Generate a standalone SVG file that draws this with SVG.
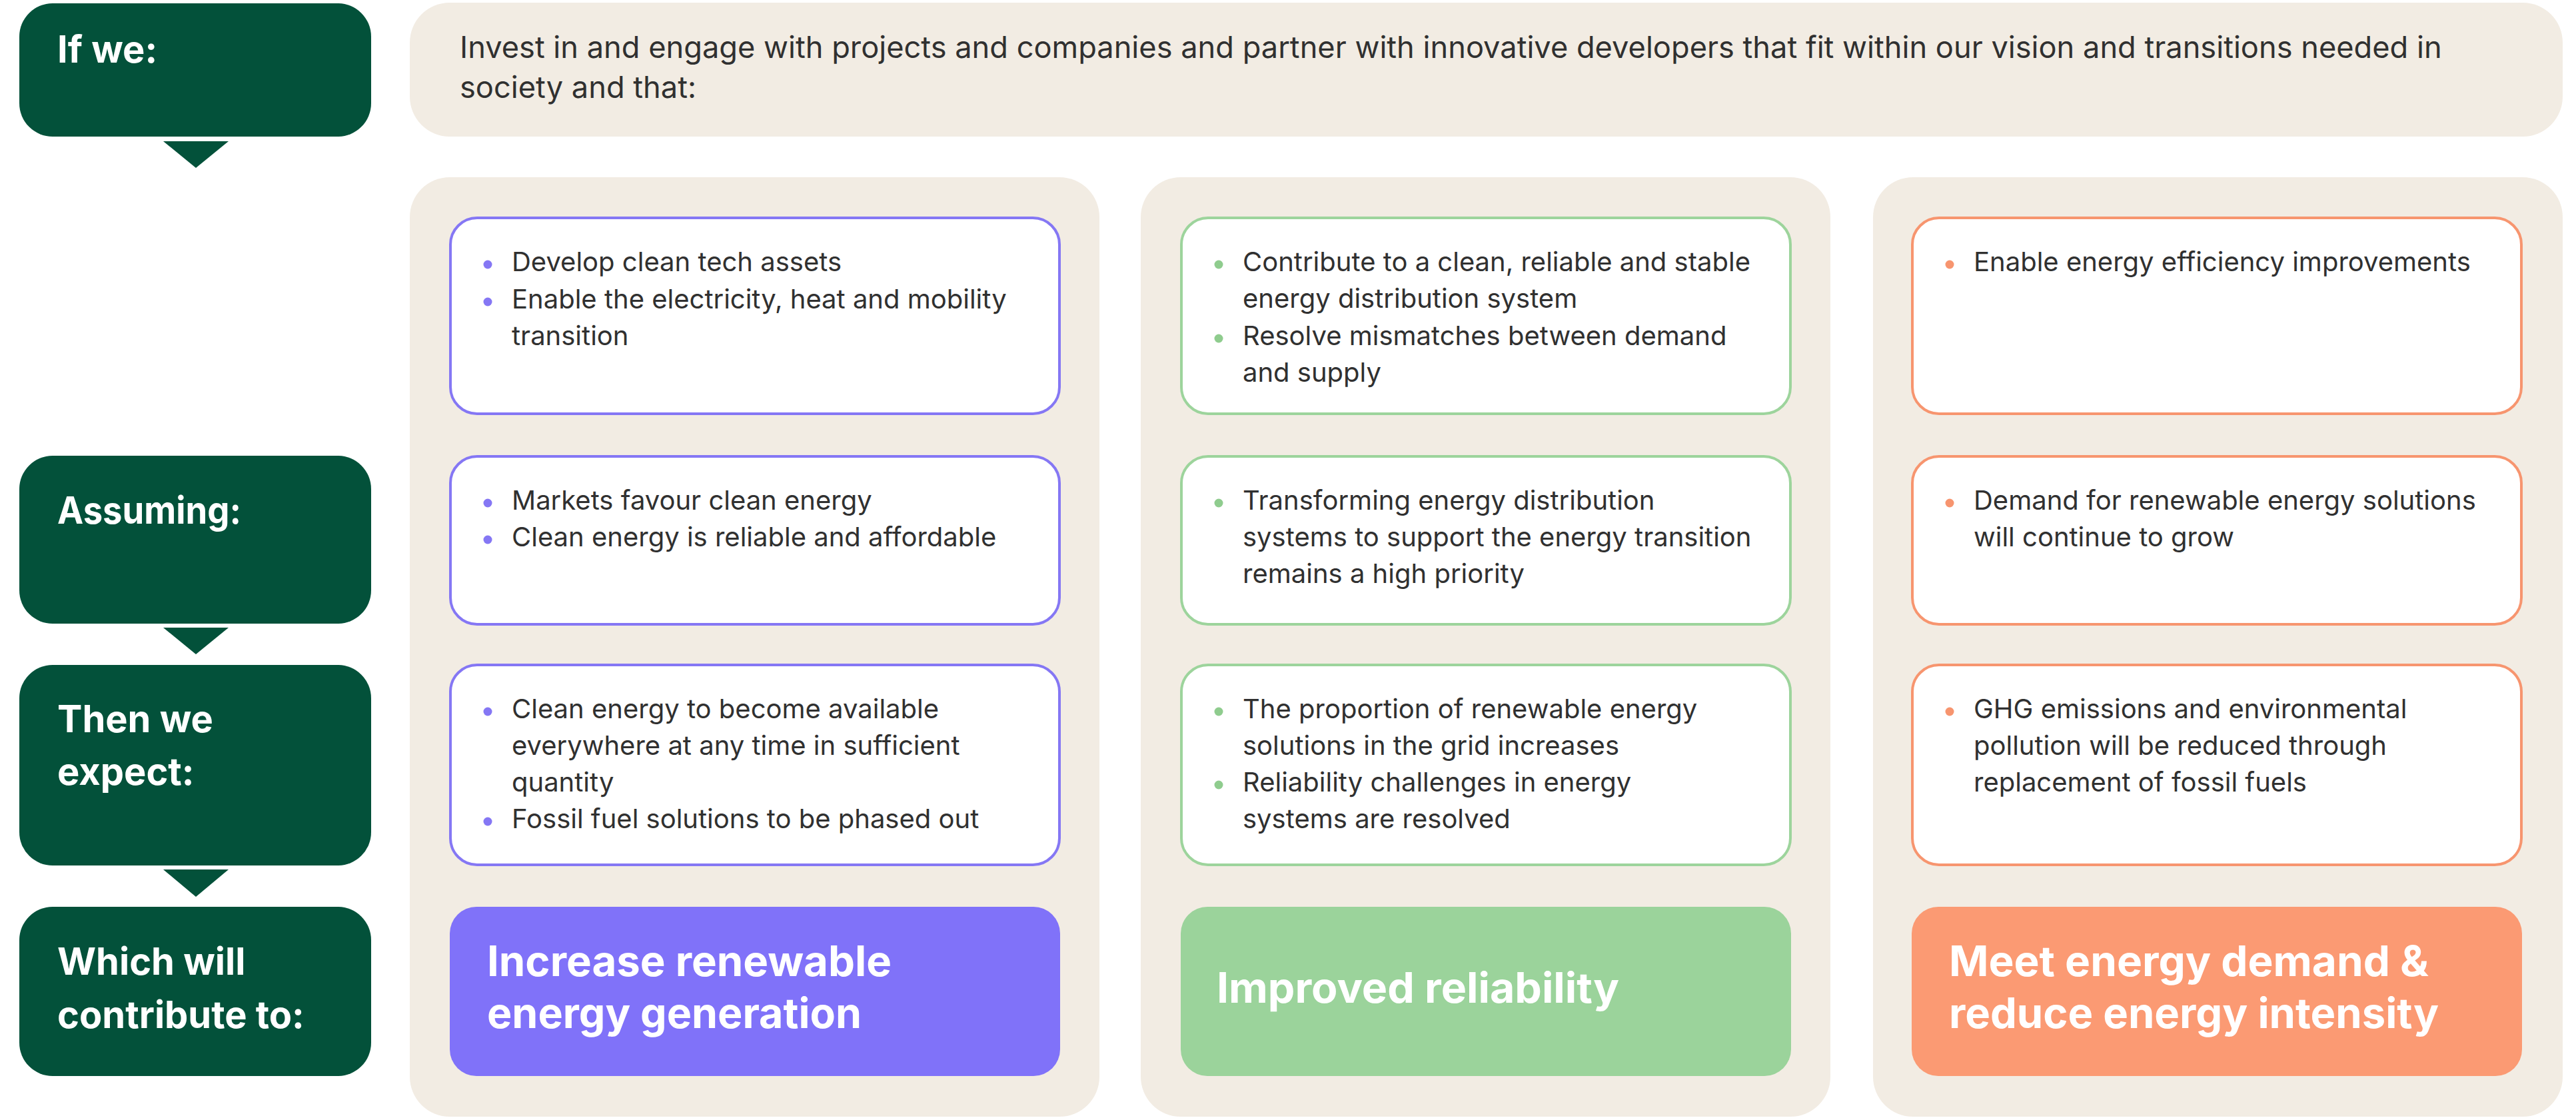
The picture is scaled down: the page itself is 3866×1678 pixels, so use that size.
<svg xmlns="http://www.w3.org/2000/svg" width="3866" height="1678" viewBox="0 0 3866 1678">
<style>
.bg{fill:#ffffff}
.lab{fill:#03513a}
.panel{fill:#f2ece3}
.lt{font-family:Inter,"Liberation Sans",sans-serif;font-weight:700;font-size:56px;fill:#ffffff}
.bt{font-family:Inter,"Liberation Sans",sans-serif;font-weight:400;font-size:40px;fill:#303030}
.tt{font-family:Inter,"Liberation Sans",sans-serif;font-weight:400;font-size:45.2px;fill:#303030}
.ht{font-family:Inter,"Liberation Sans",sans-serif;font-weight:700;font-size:63px;fill:#ffffff}
.card{fill:#ffffff;stroke-width:4}
.cp{stroke:#8577f4}.cg{stroke:#9dd49c}.co{stroke:#f7956f}
.dp{fill:#8577f4}.dg{fill:#8fcc8e}.do{fill:#f7956f}
.fp{fill:#8072f9}.fg{fill:#9bd39b}.fo{fill:#fb9a73}
.arrow{fill:#03513a}
</style>
<rect class="bg" x="0" y="0" width="3866" height="1678"/>

<g id="panels">
<rect id="panel-1" class="panel" x="615" y="266" width="1035" height="1410" rx="60"/>
<rect id="panel-2" class="panel" x="1712" y="266" width="1035" height="1410" rx="60"/>
<rect id="panel-3" class="panel" x="2811" y="266" width="1035" height="1410" rx="60"/>
</g>

<g id="connectors">
<polygon class="arrow" points="245,212 343,212 294,252"/>
<polygon class="arrow" points="245,942 343,942 294,982"/>
<polygon class="arrow" points="245,1305 343,1305 294,1346"/>
</g>

<g id="label-if">
<rect class="lab" x="29" y="5" width="528" height="200" rx="50"/>
<text class="lt" x="86" y="94">If we:</text>
</g>
<g id="label-assuming">
<rect class="lab" x="29" y="684" width="528" height="252" rx="50"/>
<text class="lt" x="86" y="786" textLength="276" lengthAdjust="spacingAndGlyphs">Assuming:</text>
</g>
<g id="label-then">
<rect class="lab" x="29" y="998" width="528" height="301" rx="50"/>
<text class="lt" x="86" y="1099">Then we</text>
<text class="lt" x="86" y="1178">expect:</text>
</g>
<g id="label-which">
<rect class="lab" x="29" y="1361" width="528" height="254" rx="50"/>
<text class="lt" x="86" y="1463">Which will</text>
<text class="lt" x="86" y="1543">contribute to:</text>
</g>

<g id="intro">
<rect class="panel" x="615" y="4" width="3231" height="201" rx="60"/>
<text class="tt" x="690" y="87">Invest in and engage with projects and companies and partner with innovative developers that fit within our vision and transitions needed in</text>
<text class="tt" x="690" y="147">society and that:</text>
</g>

<!-- Column 1 -->
<g id="c1-if">
<rect class="card cp" x="676" y="327" width="914" height="294" rx="40"/>
<circle class="dp" cx="732" cy="397" r="6.5"/>
<text class="bt" x="768" y="407">Develop clean tech assets</text>
<circle class="dp" cx="732" cy="453" r="6.5"/>
<text class="bt" x="768" y="463">Enable the electricity, heat and mobility</text>
<text class="bt" x="768" y="518">transition</text>
</g>
<g id="c1-assuming">
<rect class="card cp" x="676" y="685" width="914" height="252" rx="40"/>
<circle class="dp" cx="732" cy="755" r="6.5"/>
<text class="bt" x="768" y="765">Markets favour clean energy</text>
<circle class="dp" cx="732" cy="810" r="6.5"/>
<text class="bt" x="768" y="820">Clean energy is reliable and affordable</text>
</g>
<g id="c1-expect">
<rect class="card cp" x="676" y="998" width="914" height="300" rx="40"/>
<circle class="dp" cx="732" cy="1068" r="6.5"/>
<text class="bt" x="768" y="1078">Clean energy to become available</text>
<text class="bt" x="768" y="1133">everywhere at any time in sufficient</text>
<text class="bt" x="768" y="1188">quantity</text>
<circle class="dp" cx="732" cy="1233" r="6.5"/>
<text class="bt" x="768" y="1243">Fossil fuel solutions to be phased out</text>
</g>
<g id="c1-outcome">
<rect class="fp" x="675" y="1361" width="916" height="254" rx="40"/>
<text class="ht" x="731" y="1465" textLength="607" lengthAdjust="spacingAndGlyphs">Increase renewable</text>
<text class="ht" x="731" y="1543" textLength="562" lengthAdjust="spacingAndGlyphs">energy generation</text>
</g>

<!-- Column 2 -->
<g id="c2-if">
<rect class="card cg" x="1773" y="327" width="914" height="294" rx="40"/>
<circle class="dg" cx="1829" cy="397" r="6.5"/>
<text class="bt" x="1865" y="407">Contribute to a clean, reliable and stable</text>
<text class="bt" x="1865" y="462">energy distribution system</text>
<circle class="dg" cx="1829" cy="508" r="6.5"/>
<text class="bt" x="1865" y="518">Resolve mismatches between demand</text>
<text class="bt" x="1865" y="573">and supply</text>
</g>
<g id="c2-assuming">
<rect class="card cg" x="1773" y="685" width="914" height="252" rx="40"/>
<circle class="dg" cx="1829" cy="755" r="6.5"/>
<text class="bt" x="1865" y="765">Transforming energy distribution</text>
<text class="bt" x="1865" y="820">systems to support the energy transition</text>
<text class="bt" x="1865" y="875">remains a high priority</text>
</g>
<g id="c2-expect">
<rect class="card cg" x="1773" y="998" width="914" height="300" rx="40"/>
<circle class="dg" cx="1829" cy="1068" r="6.5"/>
<text class="bt" x="1865" y="1078">The proportion of renewable energy</text>
<text class="bt" x="1865" y="1133">solutions in the grid increases</text>
<circle class="dg" cx="1829" cy="1178" r="6.5"/>
<text class="bt" x="1865" y="1188">Reliability challenges in energy</text>
<text class="bt" x="1865" y="1243">systems are resolved</text>
</g>
<g id="c2-outcome">
<rect class="fg" x="1772" y="1361" width="916" height="254" rx="40"/>
<text class="ht" x="1826" y="1505" textLength="604" lengthAdjust="spacingAndGlyphs">Improved reliability</text>
</g>

<!-- Column 3 -->
<g id="c3-if">
<rect class="card co" x="2870" y="327" width="914" height="294" rx="40"/>
<circle class="do" cx="2926" cy="397" r="6.5"/>
<text class="bt" x="2962" y="407">Enable energy efficiency improvements</text>
</g>
<g id="c3-assuming">
<rect class="card co" x="2870" y="685" width="914" height="252" rx="40"/>
<circle class="do" cx="2926" cy="755" r="6.5"/>
<text class="bt" x="2962" y="765">Demand for renewable energy solutions</text>
<text class="bt" x="2962" y="820">will continue to grow</text>
</g>
<g id="c3-expect">
<rect class="card co" x="2870" y="998" width="914" height="300" rx="40"/>
<circle class="do" cx="2926" cy="1068" r="6.5"/>
<text class="bt" x="2962" y="1078">GHG emissions and environmental</text>
<text class="bt" x="2962" y="1133">pollution will be reduced through</text>
<text class="bt" x="2962" y="1188">replacement of fossil fuels</text>
</g>
<g id="c3-outcome">
<rect class="fo" x="2869" y="1361" width="916" height="254" rx="40"/>
<text class="ht" x="2925" y="1465" textLength="720" lengthAdjust="spacingAndGlyphs">Meet energy demand &amp;</text>
<text class="ht" x="2925" y="1543" textLength="735" lengthAdjust="spacingAndGlyphs">reduce energy intensity</text>
</g>
</svg>
